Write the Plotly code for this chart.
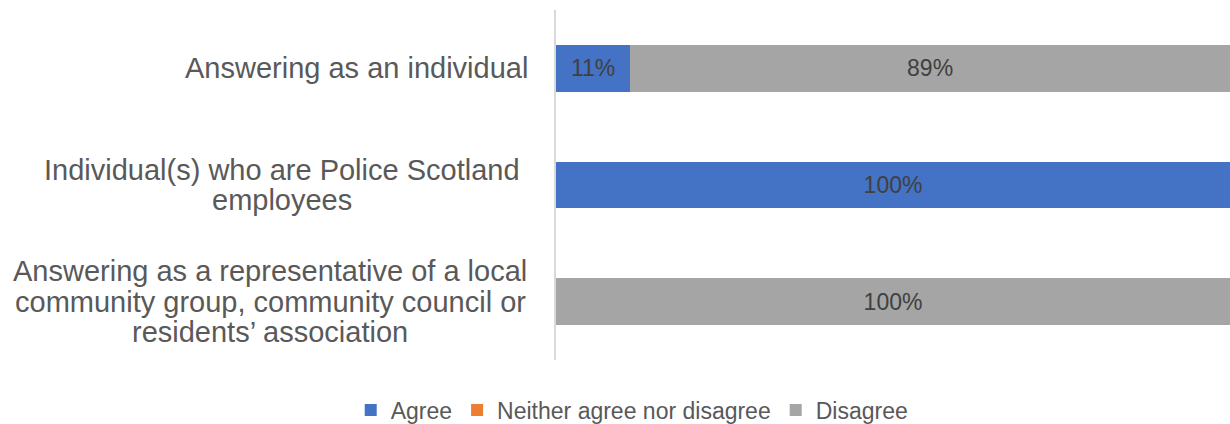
import plotly.graph_objects as go

categories = [
    "Answering as an individual",
    "Individual(s) who are Police Scotland employees",
    "Answering as a representative of a local community group, community council or residents\u2019 association",
]
# wrapped lines of each category label, as shown on the chart
label_lines = [
    ["Answering as an individual"],
    ["Individual(s) who are Police Scotland", "employees"],
    ["Answering as a representative of a local", "community group, community council or",
     "residents\u2019 association"],
]
agree = [11, 100, 0]
neither = [0, 0, 0]
disagree = [89, 0, 100]

series = [
    ("Agree", agree, "#4472C4"),
    ("Neither agree nor disagree", neither, "#ED7D31"),
    ("Disagree", disagree, "#A5A5A5"),
]

FONT = "Liberation Sans, Arial"
LABEL_CENTER_PX = [-200, -274, -286]   # horizontal centre of each label block, px left of axis
LINE_H = 30.5

fig = go.Figure()
for name, vals, col in series:
    fig.add_trace(go.Bar(
        y=categories, x=vals, name=name, orientation="h",
        marker=dict(color=col, line=dict(width=0)),
        text=[f"{v}%" if v > 0 else "" for v in vals],
        textposition="inside", insidetextanchor="middle",
        textfont=dict(family=FONT, size=23, color="#404040"),
        hoverinfo="skip",
    ))

# category labels: each wrapped line centred within its block
for cat, lines, cx in zip(categories, label_lines, LABEL_CENTER_PX):
    n = len(lines)
    for i, ln in enumerate(lines):
        fig.add_annotation(
            x=0, xref="paper", xshift=cx, y=cat, yref="y",
            yshift=((n - 1) / 2 - i) * LINE_H,
            text=ln, showarrow=False, xanchor="center", yanchor="middle",
            font=dict(family=FONT, size=29, color="#595959"),
        )

fig.update_layout(
    width=1230, height=424,
    margin=dict(l=556, r=0, t=10, b=64),
    barmode="stack", bargap=0.6,
    plot_bgcolor="white", paper_bgcolor="white",
    showlegend=True,
    legend=dict(orientation="h", xref="container", x=0.514, xanchor="center",
                yref="container", y=0.033, yanchor="middle",
                font=dict(family=FONT, size=23, color="#595959"),
                traceorder="normal", itemwidth=30),
    xaxis=dict(range=[0, 100], showgrid=False, zeroline=False, showticklabels=False,
               showline=False, fixedrange=True),
    yaxis=dict(autorange="reversed", showticklabels=False, showgrid=False,
               zeroline=False, showline=True, linecolor="#D9D9D9", linewidth=2,
               ticks=""),
)

fig.write_html("out.html")
